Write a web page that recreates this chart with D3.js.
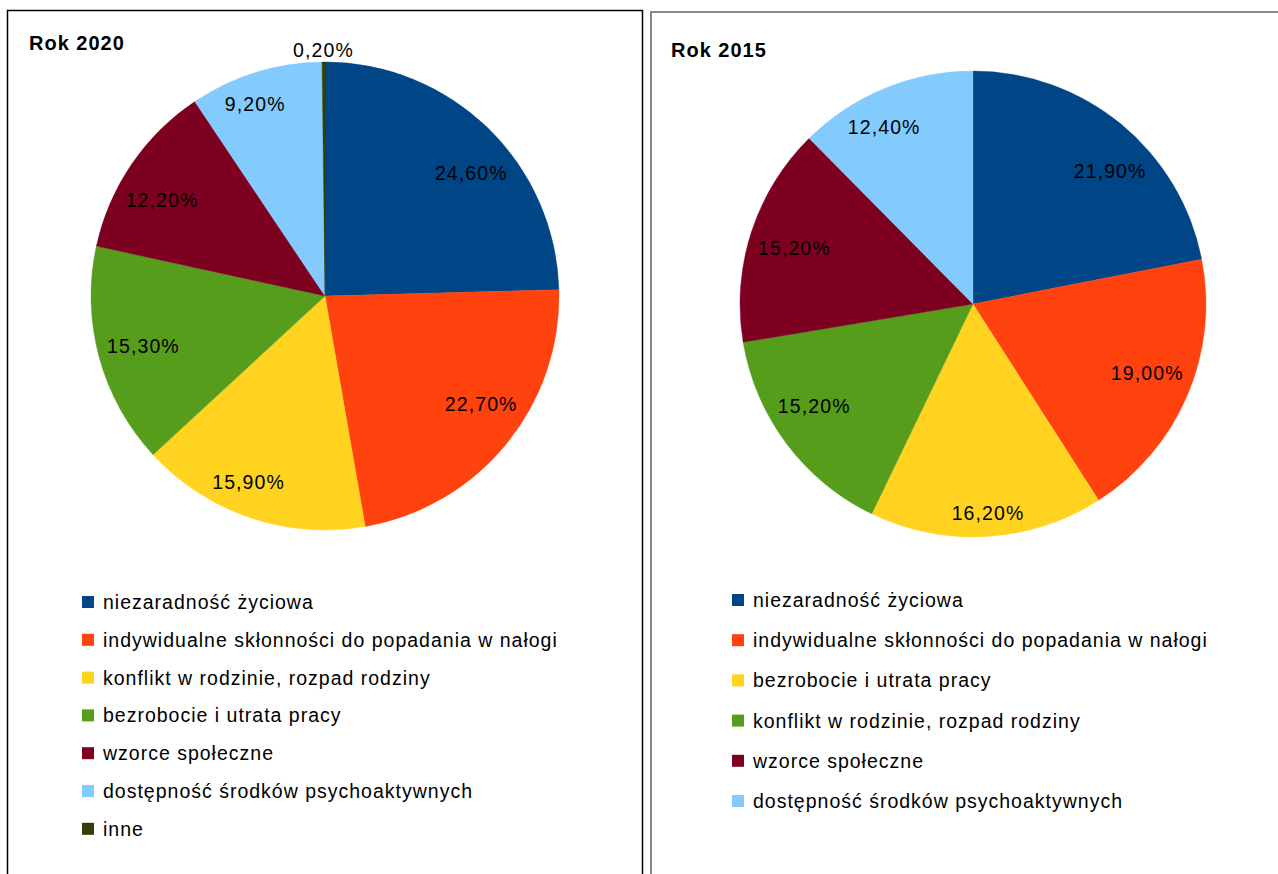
<!DOCTYPE html>
<html lang="pl">
<head>
<meta charset="utf-8">
<script src="https://cdn.jsdelivr.net/npm/d3@7"></script>
<style>
  html, body { margin: 0; padding: 0; background: #fff; }
  svg { display: block; font-family: "Liberation Sans", Arial, sans-serif; }
</style>
</head>
<body>
<svg id="chart" width="1278" height="874"></svg>
<script>
// Causes of homelessness / dependency, share of answers (%)
const categories2020 = [
  "niezaradność życiowa",
  "indywidualne skłonności do popadania w nałogi",
  "konflikt w rodzinie, rozpad rodziny",
  "bezrobocie i utrata pracy",
  "wzorce społeczne",
  "dostępność środków psychoaktywnych",
  "inne"
];
const values2020 = [24.6, 22.7, 15.9, 15.3, 12.2, 9.2, 0.2];

const categories2015 = [
  "niezaradność życiowa",
  "indywidualne skłonności do popadania w nałogi",
  "bezrobocie i utrata pracy",
  "konflikt w rodzinie, rozpad rodziny",
  "wzorce społeczne",
  "dostępność środków psychoaktywnych"
];
const values2015 = [21.9, 19.0, 16.2, 15.2, 15.2, 12.4];

// series palette, applied in order
const palette = ["#004586", "#ff420e", "#ffd320", "#579d1c", "#7e0021", "#83caff", "#314004"];

const svg = d3.select("#chart");
svg.append("rect").attr("width", 1278).attr("height", 874).attr("fill", "#fff");

const fmt = v => v.toFixed(2).replace(".", ",") + "%";
const LABEL_FS = 19.5;

// Position of a value label inside its slice: the box's inner edge meets the
// bisecting ray and its outer corner sits just inside the rim.
function innerLabelCenter(theta, hw, hh, rOuter) {
  const dx = Math.sin(theta), dy = -Math.cos(theta);
  const sx = dx >= 0 ? 1 : -1, sy = dy >= 0 ? 1 : -1;
  const devDeg = Math.min(Math.abs(Math.asin(Math.max(-1, Math.min(1, dx)))) * 180 / Math.PI, 90);
  const f = 0.5 + 0.5 * Math.min(1, devDeg / 40);
  const ox = sx * hw * 2 * f, oy = 2 * sy * hh;
  // |s*d + o| = rOuter
  const b = dx * ox + dy * oy;
  const c = ox * ox + oy * oy - rOuter * rOuter;
  const s = -b + Math.sqrt(b * b - c);
  return [s * dx + sx * hw * (2 * f - 1), s * dy + sy * hh];
}

function drawPanel(cfg) {
  const g = svg.append("g");

  // frame
  g.append("rect")
    .attr("x", cfg.frame.x).attr("y", cfg.frame.y)
    .attr("width", cfg.frame.w).attr("height", cfg.frame.h)
    .attr("fill", "none").attr("stroke", cfg.frame.stroke)
    .attr("stroke-width", cfg.frame.sw);

  // title
  g.append("text")
    .attr("x", cfg.title.x).attr("y", cfg.title.y)
    .attr("font-size", 20).attr("font-weight", "bold")
    .attr("letter-spacing", 1)
    .attr("fill", "#000")
    .text(cfg.title.text);

  const data = cfg.categories.map((c, i) => ({ cat: c, value: cfg.values[i], color: palette[i] }));
  const pie = d3.pie().value(d => d.value).sort(null);
  const arcs = pie(data);
  const arc = d3.arc().innerRadius(0).outerRadius(cfg.r);

  const pg = g.append("g").attr("transform", `translate(${cfg.cx},${cfg.cy})`);
  pg.selectAll("path.slice")
    .data(arcs)
    .join("path")
    .attr("class", "slice")
    .attr("d", arc)
    .attr("fill", d => d.data.color)
    .attr("stroke", d => d.data.color)
    .attr("stroke-width", 0.4);

  // value labels
  pg.selectAll("text.val")
    .data(arcs)
    .join("text")
    .attr("class", "val")
    .attr("font-size", LABEL_FS)
    .attr("letter-spacing", 1.1)
    .attr("fill", "#000")
    .attr("text-anchor", "middle")
    .attr("dominant-baseline", "central")
    .text(d => fmt(d.data.value))
    .attr("transform", function (d) {
      const a = (d.startAngle + d.endAngle) / 2;
      if (d.data.value < 1) {
        const rr = cfg.r + 12;
        return `translate(${rr * Math.sin(a)},${-rr * Math.cos(a)})`;
      }
      const hw = this.getComputedTextLength() / 2;
      const hh = LABEL_FS * 0.52;
      const [x, y] = innerLabelCenter(a, hw, hh, cfg.r - 8);
      return `translate(${x},${y})`;
    });

  // legend
  const lg = g.append("g").attr("transform", `translate(${cfg.legend.x},${cfg.legend.y})`);
  const rows = lg.selectAll("g.row")
    .data(data)
    .join("g")
    .attr("class", "row")
    .attr("transform", (d, i) => `translate(0,${i * cfg.legend.step})`);
  rows.append("rect")
    .attr("x", 0).attr("y", -6).attr("width", 12).attr("height", 12)
    .attr("fill", d => d.color);
  rows.append("text")
    .attr("x", 21).attr("y", 0)
    .attr("dominant-baseline", "central")
    .attr("font-size", 19.5)
    .attr("letter-spacing", 1)
    .attr("fill", "#000")
    .text(d => d.cat);
}

drawPanel({
  frame: { x: 7.5, y: 10.5, w: 635, h: 900, stroke: "#000", sw: 1.5 },
  title: { x: 29, y: 50, text: "Rok 2020" },
  categories: categories2020, values: values2020,
  cx: 325, cy: 296, r: 234,
  legend: { x: 82, y: 602, step: 37.8 }
});

drawPanel({
  frame: { x: 651, y: 12, w: 700, h: 900, stroke: "#888", sw: 2 },
  title: { x: 671, y: 56.5, text: "Rok 2015" },
  categories: categories2015, values: values2015,
  cx: 973, cy: 304, r: 233,
  legend: { x: 732, y: 600, step: 40.2 }
});
</script>
</body>
</html>
